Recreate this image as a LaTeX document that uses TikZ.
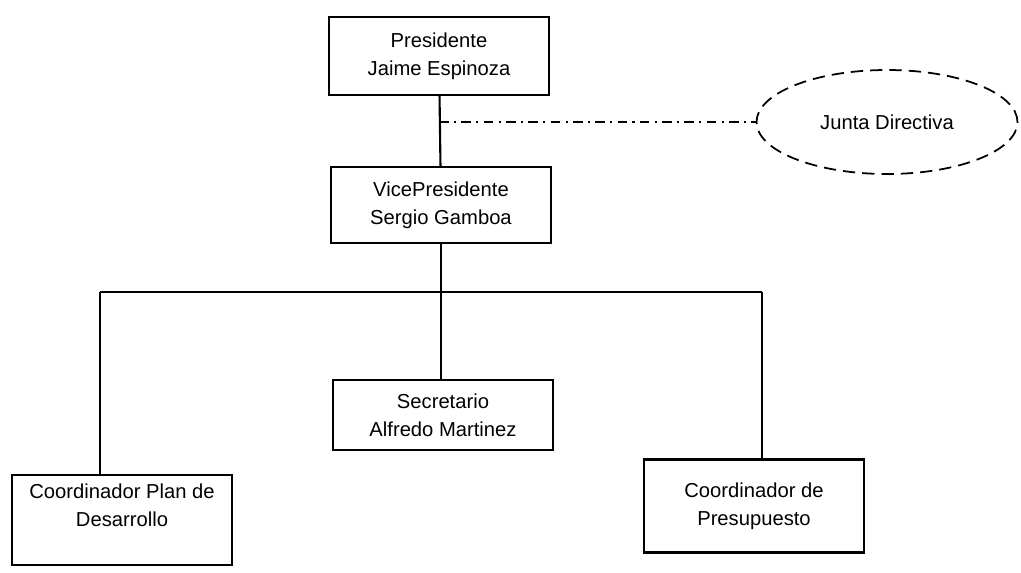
\documentclass[tikz,border=0pt]{standalone}
\usepackage{fontspec}
\setmainfont{Liberation Sans}
\usetikzlibrary{shapes.geometric}
\begin{document}
\begin{tikzpicture}[x=0.02cm, y=-0.02cm,
    box/.style={rectangle, draw, line width=1.4pt, align=center, inner sep=0pt, minimum width=4.4cm, font=\fontsize{11.5}{16}\selectfont},
    link/.style={line width=1.2pt},
    dashdot/.style={line width=0.8pt, dash pattern=on 5.5pt off 3pt on 1.2pt off 3pt}]
    \useasboundingbox (0,0) rectangle (1021,572);

    \node(p)[box, minimum height=1.56cm] at (439,56) {Presidente\\Jaime Espinoza};
    \node(vp)[box, minimum height=1.52cm] at (441,205) {VicePresidente\\Sergio Gamboa};
    \node(sec)[box, minimum height=1.4cm] at (443,415) {Secretario\\Alfredo Martinez};
    \node(plan)[box, minimum height=1.8cm, text depth=0.6cm] at (122,520) {Coordinador Plan de\\Desarrollo};
    \node(ps)[box, minimum height=1.86cm] at (754,506) {Coordinador de\\Presupuesto};
    \node(jd)[ellipse, draw, line width=1pt, dash pattern=on 7pt off 4pt, inner sep=0pt, minimum width=5.22cm, minimum height=2.08cm, font=\fontsize{11.5}{16}\selectfont] at (887,122) {Junta Directiva};

    \coordinate(bl) at (100,292);
    \coordinate(br) at (762,292);

    \draw[link] (p) -- (vp);
    \draw[dashdot] (p |- jd) -- (jd);
    \draw[link] (vp) -- (vp |- sec.north);
    \draw[link] (bl) -- (br);
    \draw[link] (bl) -- (bl |- plan.north);
    \draw[link] (br) -- (br |- ps.north);

  \end{tikzpicture}
\end{document}
